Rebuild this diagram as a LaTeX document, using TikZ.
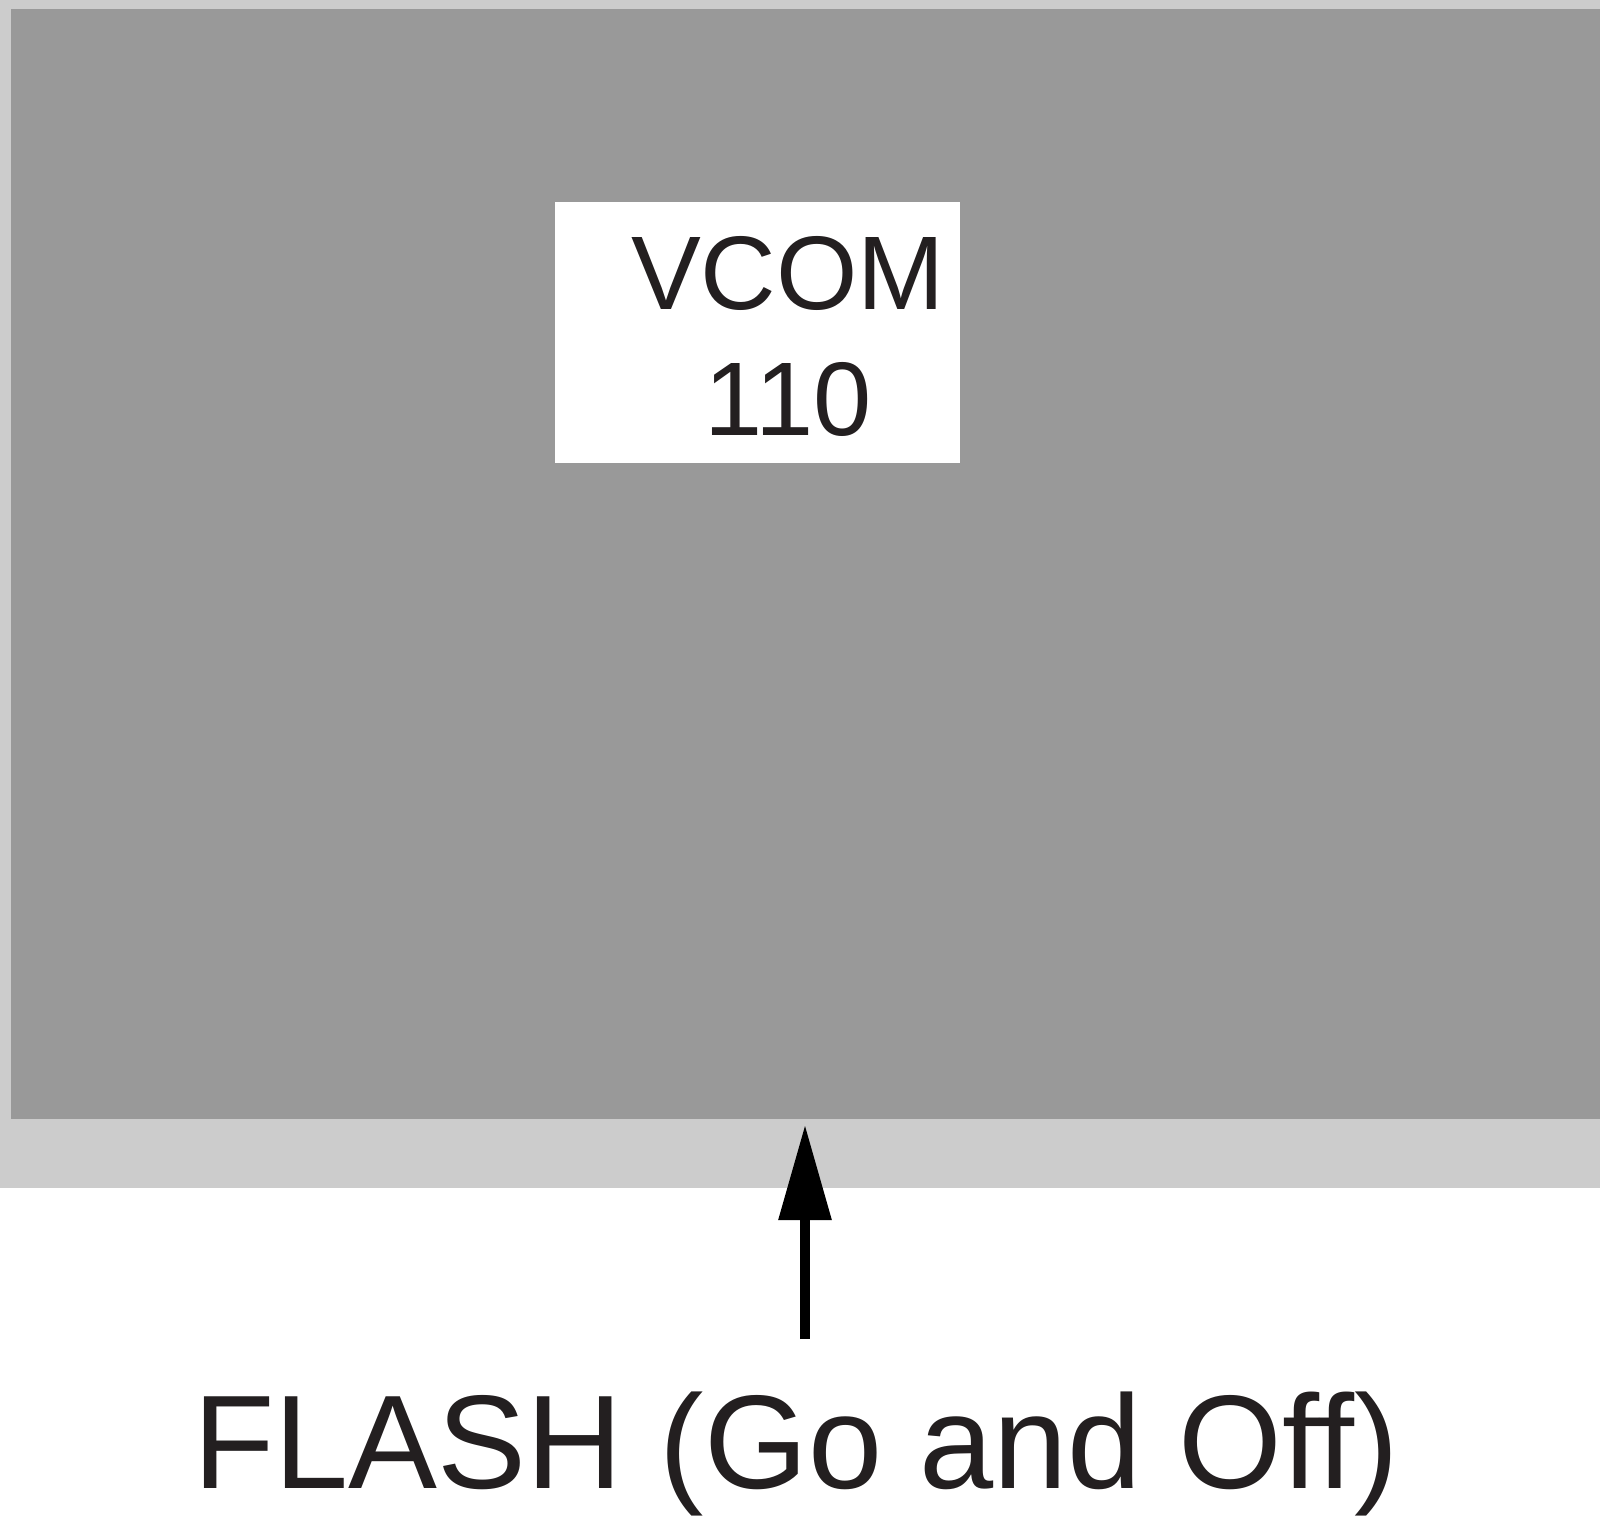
\documentclass[tikz,border=0pt]{standalone}
\usepackage{fontspec}
\setmainfont{Liberation Sans}
\usetikzlibrary{arrows.meta,positioning}
\definecolor{panelgray}{gray}{0.8}
\definecolor{screengray}{gray}{0.6}
\definecolor{inkblack}{HTML}{231F20}

\begin{document}
\begin{tikzpicture}[x=0.3pt, y=-0.3pt,
  labelbox/.style={fill=white, minimum width=405*0.3pt, minimum height=261*0.3pt, inner sep=0pt},
  flasharrow/.style={line width=2.8pt, -{Triangle[length=28.5pt, width=15.3pt]}}]
  \useasboundingbox (0,0) rectangle (1600,1521);
  % housing and screen
  \fill[panelgray] (0,0) rectangle (1600,1188);
  \fill[screengray] (11,9) rectangle (1600,1119);
  % label on the screen
  \node[labelbox] (vcombox) at (757.5,332.5) {};
  \node[align=center, text=inkblack, font=\fontsize{31.4}{37.8}\selectfont] (vcom) at (788,336) {VCOM\\110};
  % flash control
  \node[anchor=base, text=inkblack, font=\fontsize{40}{48}\selectfont] (flash) at (796,1488) {FLASH (Go and Off)};
  \coordinate (tip) at (805,1125);
  \coordinate (tail) at (805,1339);
  \draw[flasharrow] (tail) -- (tip);
\end{tikzpicture}
\end{document}
